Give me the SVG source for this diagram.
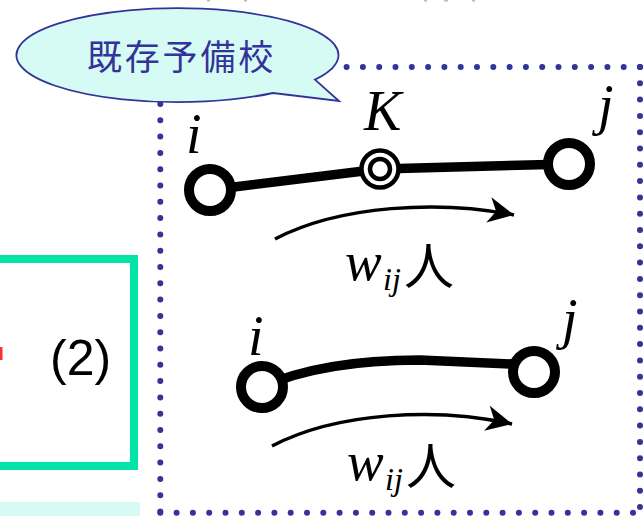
<svg xmlns="http://www.w3.org/2000/svg" width="644" height="516" viewBox="0 0 644 516">
  <style>
    .node { fill: #ffffff; stroke: #000000; stroke-width: 10; }
    .edge { fill: none; stroke: #000000; stroke-width: 9.5; stroke-linecap: butt; }
    .flow { fill: none; stroke: #000000; stroke-width: 3.5; }
    .lbl { font-family: "Liberation Serif", "Times New Roman", serif; font-style: italic; fill: #000000; }
    .cjk { font-family: "Noto Sans CJK JP", "Noto Sans CJK SC", sans-serif; fill: #000000; }
    .frame { fill: none; stroke: #333399; stroke-width: 6; stroke-linecap: round; stroke-dasharray: 0 16.3; }
  </style>
  <defs>
    <marker id="ah" markerUnits="userSpaceOnUse" markerWidth="30" markerHeight="30" viewBox="-26 -14 28 28" refX="0" refY="0" orient="auto">
      <path d="M0,0 L-24,-12 L-17,0 L-24,12 Z" fill="#000000"/>
    </marker>
  </defs>

  <rect width="644" height="516" fill="#ffffff"/>

  <!-- faint cut-off fragments at top edge -->
  <g fill="#bbbbbb">
    <rect x="207" y="0" width="3" height="1.5"/>
    <rect x="244" y="0" width="3" height="1.5"/>
    <rect x="424" y="0" width="3" height="1.5"/>
    <rect x="444" y="0" width="4" height="1.5"/>
    <rect x="472" y="0" width="3" height="1.5"/>
  </g>

  <!-- left green box (cut off) -->
  <g id="box2">
    <path d="M-10,259 L134,259 L134,466 L-10,466" fill="none" stroke="#00e4a8" stroke-width="8"/>
    <rect x="0" y="347" width="2.5" height="13" fill="#ff3030"/>
    <text x="50" y="375" font-family="Liberation Sans, Arial, sans-serif" font-size="50" fill="#000000">(2)</text>
  </g>

  <!-- bottom light bar -->
  <rect id="bar" x="0" y="502" width="140" height="14" fill="#d5fbf4"/>

  <!-- dotted frame -->
  <g id="frame">
    <path class="frame" d="M640,67 L640,512.7"/>
    <path class="frame" d="M160.3,512.7 L640,512.7"/>
    <path class="frame" d="M160.3,104 L160.3,512.7"/>
    <path class="frame" d="M640,67 L282,67"/>
  </g>

  <!-- callout -->
  <g id="callout">
    <path d="M315,79.6 L339,101 L273,93 A161,47 0 1 1 315,79.6 Z" fill="#d5fbf4" stroke="#333399" stroke-width="1.8" stroke-linejoin="miter"/>
    <text x="87" y="70" font-family="Noto Sans CJK JP, Noto Sans CJK SC, sans-serif" font-size="35" letter-spacing="2.8" fill="#333399">既存予備校</text>
  </g>

  <!-- connectors -->
  <g id="connectors">
    <path class="edge" d="M210,190 L380,169"/>
    <path class="edge" d="M380,169 L569,164"/>
    <path class="edge" d="M262,387 C300,370 350,360 420,360 L534,365"/>
    <path class="flow" d="M275,239 C340,205 440,200 514,215" marker-end="url(#ah)"/>
    <path class="flow" d="M272,446 C337,412 437,407 512,424" marker-end="url(#ah)"/>
  </g>

  <!-- top route nodes -->
  <g id="node-i1">
    <circle class="node" cx="210" cy="190" r="21"/>
    <text class="lbl" x="186" y="153" font-size="56">i</text>
  </g>
  <g id="node-K">
    <circle cx="380" cy="169" r="18.5" fill="#ffffff" stroke="#000000" stroke-width="4.5"/>
    <circle cx="380" cy="169" r="10" fill="#ffffff" stroke="#000000" stroke-width="4.5"/>
    <text class="lbl" x="364" y="130" font-size="56">K</text>
  </g>
  <g id="node-j1">
    <circle class="node" cx="569" cy="164" r="21"/>
    <text class="lbl" x="598" y="124" font-size="56">j</text>
  </g>
  <g id="label-w1">
    <text class="lbl" x="345" y="280" font-size="55">w</text>
    <text class="lbl" x="383" y="290" font-size="32">ij</text>
    <text class="cjk" x="404" y="284" font-size="50">人</text>
  </g>

  <!-- bottom route nodes -->
  <g id="node-i2">
    <circle class="node" cx="262" cy="387" r="21"/>
    <text class="lbl" x="248" y="355" font-size="56">i</text>
  </g>
  <g id="node-j2">
    <circle class="node" cx="534" cy="372" r="21"/>
    <text class="lbl" x="562" y="338" font-size="56">j</text>
  </g>
  <g id="label-w2">
    <text class="lbl" x="347" y="480" font-size="55">w</text>
    <text class="lbl" x="385" y="490" font-size="32">ij</text>
    <text class="cjk" x="406" y="484" font-size="50">人</text>
  </g>
</svg>
